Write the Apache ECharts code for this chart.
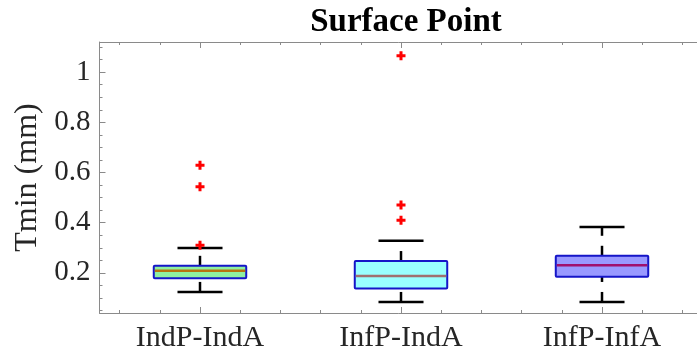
<!DOCTYPE html>
<html>
<head>
<meta charset="utf-8">
<script src="https://cdn.jsdelivr.net/npm/echarts@6/dist/echarts.min.js"></script>
<style>html,body{margin:0;padding:0;background:#fff;overflow:hidden}#c{width:697px;height:359px}</style>
</head>
<body>
<div id="c"></div>
<script>
const categories = ['IndP-IndA', 'InfP-IndA', 'InfP-InfA'];
const lowerWhisker = [0.124, 0.084, 0.084];
const q1 = [0.178, 0.138, 0.184];
const median = [0.208, 0.187, 0.230];
const q3 = [0.228, 0.247, 0.268];
const upperWhisker = [0.299, 0.328, 0.383];
const outlierCategory = [1, 1, 1, 2, 2, 2];
const outlierValue = [0.629, 0.543, 0.310, 1.065, 0.470, 0.410];
const yTickLabels = [0.2, 0.4, 0.6, 0.8, 1];

const boxFill = ['#8ff0a0', '#99ffff', '#9999ff'];
const medianColor = ['#b8730e', '#a07070', '#a0106e'];

const boxData = categories.map((c, i) => [i + 1, lowerWhisker[i], q1[i], median[i], q3[i], upperWhisker[i]]);
const outlierData = outlierCategory.map((c, i) => [c, outlierValue[i]]);

// the plot box runs to x = 3.5, the picture is cut at about 3.47
const xMin = 0.5, xMaxVisible = 3.4726;
const xMajor = [1, 2, 3];
const xMinor = [];
for (let v = 0.6; v < 3.45; v += 0.2) { const r = Math.round(v * 10) / 10; if (Math.abs(r - Math.round(r)) > 1e-6) xMinor.push(r); }
const yMinor = [];
for (let k = 1; k <= 22; k++) { const r = Math.round(k * 5) / 100; if (Math.abs(r * 5 - Math.round(r * 5)) > 1e-6) yMinor.push(r); }

const FONT = '"Liberation Serif", "Times New Roman", serif';
const lineCol = '#8a8a8a';
const txtCol = '#262626';

function xAx(grid, pos, ticks, len, showLine, labels) {
  return {
    gridIndex: grid, type: 'value', position: pos, min: xMin, max: xMaxVisible,
    axisLine: { show: showLine, onZero: false, lineStyle: { color: lineCol, width: 1 } },
    axisTick: { show: true, inside: true, length: len, customValues: ticks, lineStyle: { color: lineCol, width: 1 } },
    axisLabel: labels ? { show: true, customValues: xMajor, formatter: v => categories[Math.round(v) - 1], fontFamily: FONT, fontSize: 30, color: txtCol, margin: 10 } : { show: false },
    splitLine: { show: false }, splitArea: { show: false }
  };
}
function yAx(grid, pos, ticks, len, showLine, labels, name) {
  const a = {
    gridIndex: grid, type: 'value', position: pos, min: 0.04, max: 1.12,
    axisLine: { show: showLine, onZero: false, lineStyle: { color: lineCol, width: 1 } },
    axisTick: { show: true, inside: true, length: len, customValues: ticks, lineStyle: { color: lineCol, width: 1 } },
    axisLabel: labels ? { show: true, customValues: yTickLabels, formatter: v => String(Math.round(v * 10) / 10), fontFamily: FONT, fontSize: 29, color: txtCol, margin: 9 } : { show: false },
    splitLine: { show: false }, splitArea: { show: false }
  };
  if (name) {
    a.name = name; a.nameLocation = 'middle'; a.nameGap = 56;
    a.nameTextStyle = { fontFamily: FONT, fontSize: 32, color: txtCol };
  }
  return a;
}

const gridBox = { left: 99.5, right: 0, top: 42, bottom: 46, containLabel: false, outerBoundsMode: 'none', show: false };
const chart = echarts.init(document.getElementById('c'), null, { renderer: 'canvas' });
chart.setOption({
  backgroundColor: '#fff',
  animation: false,
  title: {
    text: 'Surface Point', left: 401, top: 1, textAlign: 'center',
    textStyle: { fontFamily: FONT, fontWeight: 'bold', fontSize: 33, color: '#000' }
  },
  grid: [Object.assign({}, gridBox), Object.assign({}, gridBox)],
  xAxis: [
    xAx(0, 'bottom', xMajor, 6, true, true),
    xAx(0, 'top', xMajor, 6, true, false),
    xAx(1, 'bottom', xMinor, 3, false, false),
    xAx(1, 'top', xMinor, 3, false, false)
  ],
  yAxis: [
    yAx(0, 'left', yTickLabels, 6, true, true, 'Tmin (mm)'),
    yAx(1, 'left', yMinor, 3, false, false)
  ],
  series: [
    {
      type: 'custom', xAxisIndex: 0, yAxisIndex: 0, data: boxData,
      renderItem: function (params, api) {
        const i = params.dataIndex;
        const x = api.value(0);
        const pLow = api.coord([x, api.value(1)]);
        const pQ1 = api.coord([x, api.value(2)]);
        const pMed = api.coord([x, api.value(3)]);
        const pQ3 = api.coord([x, api.value(4)]);
        const pHigh = api.coord([x, api.value(5)]);
        const half = (api.coord([x + 0.23, 0])[0] - api.coord([x, 0])[0]);
        const capHalf = (api.coord([x + 0.112, 0])[0] - api.coord([x, 0])[0]);
        const cx = pQ1[0];
        const wStyle = { stroke: '#000', lineWidth: 2.5, lineDash: [10, 10], fill: null };
        const cStyle = { stroke: '#000', lineWidth: 2.5, fill: null };
        return {
          type: 'group',
          children: [
            { type: 'line', shape: { x1: cx, y1: pQ3[1], x2: cx, y2: pHigh[1] }, style: wStyle },
            { type: 'line', shape: { x1: cx, y1: pLow[1], x2: cx, y2: pQ1[1] }, style: wStyle },
            { type: 'line', shape: { x1: cx - capHalf, y1: pHigh[1], x2: cx + capHalf, y2: pHigh[1] }, style: cStyle },
            { type: 'line', shape: { x1: cx - capHalf, y1: pLow[1], x2: cx + capHalf, y2: pLow[1] }, style: cStyle },
            { type: 'rect', shape: { x: cx - half, y: pQ3[1], width: 2 * half, height: pQ1[1] - pQ3[1], r: 1 },
              style: { fill: boxFill[i], stroke: '#1515c8', lineWidth: 2 } },
            { type: 'line', shape: { x1: cx - half + 1, y1: pMed[1], x2: cx + half - 1, y2: pMed[1] },
              style: { stroke: medianColor[i], lineWidth: 2.5 } }
          ]
        };
      }
    },
    {
      type: 'scatter', xAxisIndex: 0, yAxisIndex: 0, data: outlierData,
      symbol: 'path://M-1,-3L1,-3L1,-1L3,-1L3,1L1,1L1,3L-1,3L-1,1L-3,1L-3,-1L-1,-1Z',
      symbolSize: 9, itemStyle: { color: '#ff0000', opacity: 1 }, z: 5
    }
  ]
});
</script>
</body>
</html>
